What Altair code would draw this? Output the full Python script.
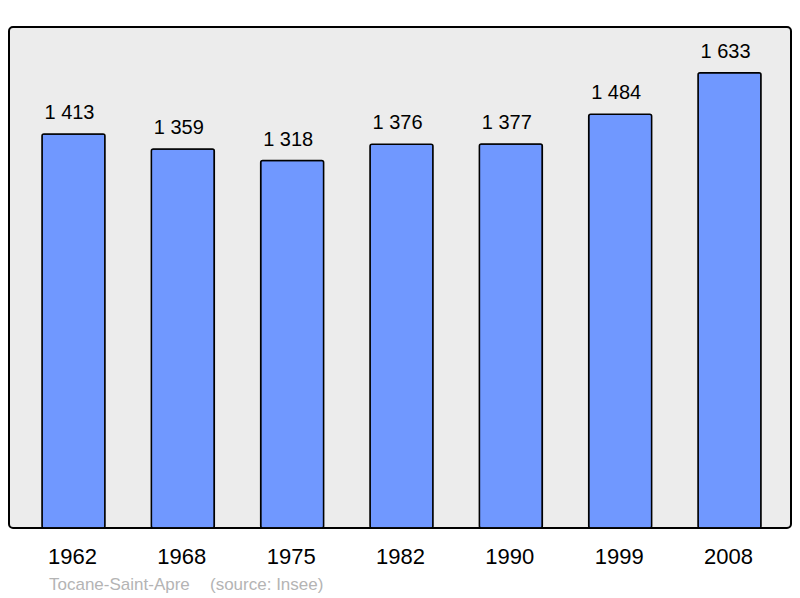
import altair as alt
import pandas as pd

years = ["1962", "1968", "1975", "1982", "1990", "1999", "2008"]
population = [1413, 1359, 1318, 1376, 1377, 1484, 1633]
labels = ["1 413", "1 359", "1 318", "1 376", "1 377", "1 484", "1 633"]
source_name = ["Tocane-Saint-Apre"]
source_note = ["(source: Insee)"]

df = pd.DataFrame({"year": years, "pop": population, "label": labels})

FONT = "Liberation Sans"

x = alt.X("year:N", sort=years, title=None,
          scale=alt.Scale(paddingInner=0.424, paddingOuter=0.288, range=[1.5, 783.5]),
          axis=alt.Axis(labelAngle=0, domain=False, ticks=False, labelFontSize=22,
                        labelFont=FONT, labelColor="#000000", labelPadding=18,
                        labelOffset=-1))
y = alt.Y("pop:Q", title=None, scale=alt.Scale(domain=[0, 1797], nice=False, zero=True),
          axis=None)

bars = alt.Chart(df).mark_bar(color="#7098ff", stroke="#000000", strokeWidth=1.5,
                              cornerRadius=2).encode(x=x, y=y)
text = alt.Chart(df).mark_text(fontSize=20, font=FONT, color="#000000", dy=-21, dx=-4,
                               baseline="middle").encode(x=x, y=y, text="label:N")
src1 = alt.Chart(pd.DataFrame({"t": source_name})).mark_text(
    fontSize=17, font=FONT, color="#b4b4b4", align="left", baseline="middle").encode(
    x=alt.value(40), y=alt.value(558), text="t:N")
src2 = alt.Chart(pd.DataFrame({"t": source_note})).mark_text(
    fontSize=17, font=FONT, color="#b4b4b4", align="left", baseline="middle").encode(
    x=alt.value(201), y=alt.value(558), text="t:N")

chart = alt.layer(bars, text, src1, src2).properties(
    width=782, height=501,
    autosize=alt.AutoSizeParams(type="none"),
    padding={"left": 1, "top": 19, "right": 1, "bottom": 70},
    background="#ffffff",
).configure_view(
    fill="#ececec", stroke="#000000", strokeWidth=2, cornerRadius=4
)

chart.save("out.html", embed_options={"renderer": "svg", "actions": False})
